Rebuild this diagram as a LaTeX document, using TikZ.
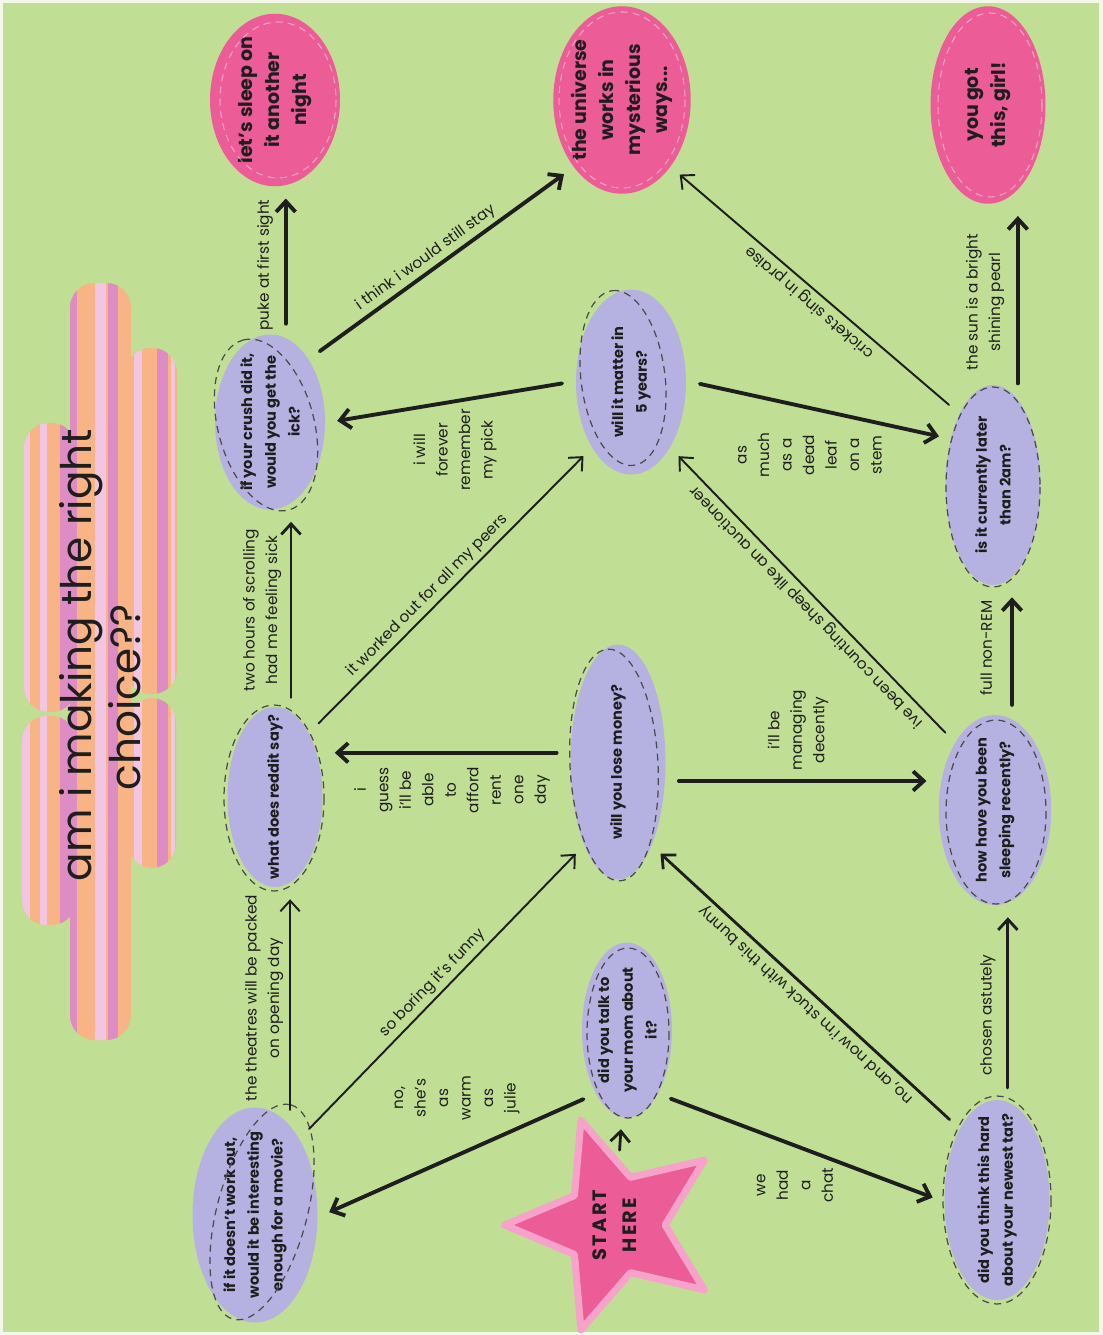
\documentclass[tikz,border=0pt]{standalone}
\usepackage{fontspec}
\setmainfont{Poppins}
\usetikzlibrary{shapes.geometric, arrows.meta}

\definecolor{meadow}{RGB}{192,222,148}
\definecolor{lilac}{RGB}{181,178,226}
\definecolor{bubblegum}{RGB}{236,92,150}
\definecolor{blush}{RGB}{246,162,202}
\definecolor{peach}{RGB}{248,180,132}
\definecolor{mauve}{RGB}{221,141,196}
\definecolor{petal}{RGB}{241,198,226}
\definecolor{ink}{RGB}{30,30,30}

\tikzset{
  question/.style={ellipse, fill=lilac, rotate=90, align=center, text=ink,
    inner xsep=-14pt, inner ysep=-4pt, outer sep=3pt,
    font=\fontsize{8.3}{13.5}\selectfont\bfseries},
  answer/.style={ellipse, fill=bubblegum, rotate=90, align=center, text=ink,
    inner xsep=-12pt, inner ysep=-4pt, outer sep=3pt,
    font=\fontsize{10.8}{15.5}\selectfont\bfseries},
  ring/.style={draw=ink!80, dash pattern=on 4pt off 3pt, line width=.7pt},
  pinkring/.style={draw=white, opacity=.45, dash pattern=on 4pt off 3pt, line width=.6pt},
  say/.style={font=\fontsize{8.7}{12.8}\selectfont, text=ink, align=center, inner sep=2pt},
  sayup/.style={say, rotate=90},
  link/.style={draw=ink, line width=1.1pt, line cap=round,
    -{Straight Barb[length=6pt, width=11pt]}, shorten <=5pt, shorten >=4pt},
  boldlink/.style={link, line width=2.2pt},
}

\begin{document}
\begin{tikzpicture}[x=0.02cm, y=-0.02cm]
\useasboundingbox (0,0) rectangle (1102,1335);
\fill[meadow] (0,0) rectangle (1102,1335);
\draw[white!80!meadow, line width=2pt] (1,1) rectangle (1101,1334);

% title cloud
\begin{scope}
  \clip[rounded corners=14pt] (70,283) rectangle (131,1040) (126,348) rectangle (177,694)
    (128,698) rectangle (176,868) (24,423) rectangle (76,712) (22,716) rectangle (76,925);
  \fill[peach] (0,270) rectangle (200,1050);
  \foreach \xa/\xb/\tone in {22/30/petal, 40/47/petal, 60/77/mauve, 95/106/petal,
      108/118/mauve, 134/142/petal, 157/168/mauve, 171/175/petal}
    \fill[\tone] (\xa,270) rectangle (\xb,1050);
\end{scope}
\node[rotate=90, align=center, text=ink, font=\fontsize{24}{28}\selectfont] (title) at (100,655)
  {am i making the right\\choice??\hspace{48pt}\mbox{}};

% endings
\node[answer, minimum width=3.45cm, minimum height=2.6cm] (sleepend) at (275,100) {let’s sleep on\\it another\\night};
\node[answer, minimum width=3.75cm, minimum height=2.75cm] (universe) at (622,100) {the universe\\works in\\mysterious\\ways...};
\node[answer, minimum width=3.95cm, minimum height=2.3cm] (girl) at (988,105) {you got\\this, girl!};

% questions
\node[question, minimum width=4.3cm, minimum height=2.5cm] (movie) at (255,1215) {if it doesn’t work out,\\would it be interesting\\enough for a movie?};
\node[question, minimum width=3.6cm, minimum height=1.9cm] (reddit) at (275,797) {what does reddit say?};
\node[question, minimum width=3.5cm, minimum height=2.2cm] (crush) at (270,422) {if your crush did it,\\would you get the\\ick?};
\node[question, minimum width=3.5cm, minimum height=1.8cm] (mom) at (627,1030) {did you talk to\\your mom about\\it?};
\node[question, minimum width=4.7cm, minimum height=1.9cm] (money) at (618,762) {will you lose money?};
\node[question, minimum width=3.7cm, minimum height=2.2cm] (q5yrs) at (631,382) {will it matter in\\5 years?};
\node[question, minimum width=4.0cm, minimum height=2.1cm] (tat) at (997,1200) {did you think this hard\\about your newest tat?};
\node[question, minimum width=3.8cm, minimum height=2.25cm] (sleep) at (995,810) {how have you been\\sleeping recently?};
\node[question, minimum width=4.0cm, minimum height=1.9cm] (q2am) at (993,485) {is it currently later\\than 2am?};

\node[star, star points=5, star point ratio=2.2, rotate=90, fill=bubblegum, draw=blush,
  line width=4pt, line join=round, minimum size=4.2cm, inner sep=0pt, text=ink, align=center,
  font=\fontsize{11}{17}\selectfont\bfseries\addfontfeatures{LetterSpace=12}] (start) at (615,1225) {START\\HERE};

% dashed rings
\draw[ring, rotate around={75:(262,1212)}] (262,1212) ellipse (111 and 45);
\draw[ring] (274,798) ellipse (50 and 93);
\draw[ring, rotate around={105:(266,425)}] (266,425) ellipse (88 and 48);
\draw[ring] (628,1033) ellipse (41 and 85);
\draw[ring, rotate around={93:(614,765)}] (614,765) ellipse (116 and 44);
\draw[ring, rotate around={97:(623,378)}] (623,378) ellipse (88 and 42);
\draw[ring] (997,1200) ellipse (54 and 104);
\draw[ring] (996,812) ellipse (50 and 92);
\draw[ring] (993,487) ellipse (47 and 100);
\draw[pinkring] (278,100) ellipse (58 and 78);
\draw[pinkring] (622,100) ellipse (63 and 88);
\draw[pinkring] (990,105) ellipse (52 and 92);

% arrows
\draw[link, line width=1.6pt] (start) -- (mom);
\draw[boldlink] (mom.north west) -- (movie.south);
\draw[boldlink] (mom.south west) -- (tat.north);
\draw[link] (movie.-20) -- (movie.-20 |- reddit.west);
\draw[link] (movie.south east) -- node[say, sloped, above, pos=.5] (lbl-funny) {so boring it’s funny} (money.north west);
\draw[link, line width=1.6pt] (reddit.-10) -- (reddit.-10 |- crush.west);
\draw[link] (reddit.south east) -- node[say, sloped, above, pos=.45] (lbl-peers) {it worked out for all my peers} (q5yrs.north west);
\draw[boldlink] (money.80) -- (money.80 -| reddit.south);
\draw[boldlink] (money.-110) -- (money.-110 -| sleep.north);
\draw[boldlink] (crush.-10) -- (crush.-10 |- sleepend.west);
\draw[boldlink] (crush.south east) -- node[say, sloped, above, pos=.47] (lbl-stay) {i think i would still stay} (universe.north west);
\draw[boldlink] (q5yrs.north) -- (crush.south);
\draw[boldlink] (q5yrs.south) -- (q2am.45);
\draw[link, line width=1.6pt] (tat.north east) -- node[say, sloped, above, allow upside down, pos=.47] (lbl-bunny) {no, and now i’m stuck with this bunny} (money.south west);
\draw[link, line width=1.6pt] (tat.-6) -- (tat.-6 |- sleep.west);
\draw[link] (sleep.north east) -- node[say, sloped, above, allow upside down, pos=.49] (lbl-sheep) {ive been counting sheep like an auctioneer} (q5yrs.south west);
\draw[boldlink] (sleep.-10) -- (sleep.-10 |- q2am.west);
\draw[link] (q2am.north east) -- node[say, sloped, above, allow upside down, pos=.49] (lbl-crickets) {crickets sing in praise} (universe.south west);
\draw[boldlink] (q2am.-15) -- (q2am.-15 |- girl.west);

% labels beside the straight arrows
\node[sayup] (lbl-julie) at (457,1098) {no,\\she’s\\as\\warm\\as\\julie};
\node[sayup] (lbl-chat) at (795,1185) {we\\had\\a\\chat};
\node[sayup] (lbl-theatres) at (264,998) {the theatres will be packed\\on opening day};
\node[sayup] (lbl-scroll) at (262,610) {two hours of scrolling\\had me feeling sick};
\node[sayup] (lbl-puke) at (265,265) {puke at first sight};
\node[sayup] (lbl-guess) at (452,790) {i\\guess\\i’ll be\\able\\to\\afford\\rent\\one\\day};
\node[sayup] (lbl-manage) at (798,730) {i’ll be\\managing\\decently};
\node[sayup] (lbl-pick) at (455,450) {i will\\forever\\remember\\my pick};
\node[sayup] (lbl-leaf) at (810,455) {as\\much\\as a\\dead\\leaf\\on a\\stem};
\node[sayup] (lbl-nonrem) at (986,648) {full non-REM};
\node[sayup] (lbl-astute) at (988,1015) {chosen astutely};
\node[sayup] (lbl-pearl) at (985,302) {the sun is a bright\\shining pearl};
\end{tikzpicture}
\end{document}
